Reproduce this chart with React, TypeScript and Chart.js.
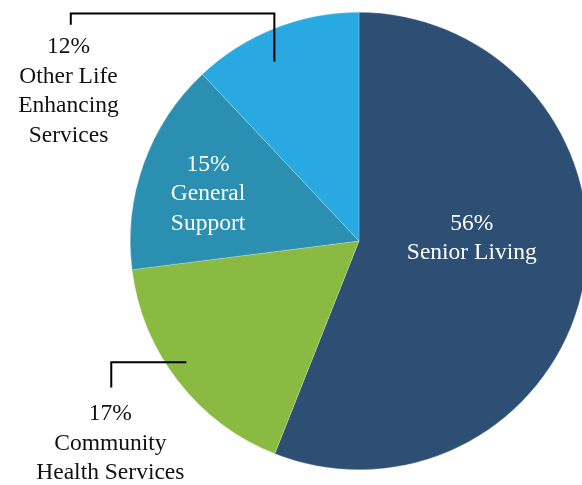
import React, { useEffect, useRef } from "react";
import { Chart, registerables } from "chart.js";

Chart.register(...registerables);

const categories = ["Senior Living", "Community Health Services", "General Support", "Other Life Enhancing Services"];
const values = [56, 17, 15, 12];
const colors = ["#2c4f73", "#8aba41", "#2a8fb1", "#29a9e1"];
const labelLines = [
  ["56%", "Senior Living"],
  ["17%", "Community", "Health Services"],
  ["15%", "General", "Support"],
  ["12%", "Other Life", "Enhancing", "Services"],
];
const labelColors = ["#ffffff", "#111111", "#ffffff", "#111111"];

const FONT = '23.5px "Liberation Serif", "Times New Roman", serif';

const labelPlugin = {
  id: "sliceLabels",
  afterDraw(chart: any) {
    const ctx = chart.ctx;
    const meta = chart.getDatasetMeta(0);
    const arc0 = meta.data[0];
    const cx = arc0.x;
    const cy = arc0.y;
    const r = arc0.outerRadius;
    ctx.save();
    ctx.font = FONT;
    ctx.textAlign = "center";
    ctx.textBaseline = "middle";
    const lineH = 29.5;
    // anchor positions relative to centre (fractions of radius)
    const anchors = [
      { x: cx + 0.493 * r, y: cy - 0.012 * r },
      { x: cx - 1.087 * r, y: cy + 0.885 * r },
      { x: cx - 0.66 * r, y: cy - 0.206 * r },
      { x: cx - 1.27 * r, y: cy - 0.654 * r },
    ];
    anchors.forEach((a, i) => {
      const lines = labelLines[i];
      ctx.fillStyle = labelColors[i];
      const start = a.y - ((lines.length - 1) * lineH) / 2;
      lines.forEach((t, j) => ctx.fillText(t, a.x, start + j * lineH));
    });
    // connectors
    ctx.strokeStyle = "#000000";
    ctx.lineWidth = 2;
    ctx.lineCap = "butt";
    ctx.beginPath();
    ctx.moveTo(cx - 1.26 * r, cy - 0.945 * r);
    ctx.lineTo(cx - 1.26 * r, cy - 0.995 * r);
    ctx.lineTo(cx - 0.37 * r, cy - 0.995 * r);
    ctx.lineTo(cx - 0.37 * r, cy - 0.785 * r);
    ctx.stroke();
    ctx.beginPath();
    ctx.moveTo(cx - 1.083 * r, cy + 0.64 * r);
    ctx.lineTo(cx - 1.083 * r, cy + 0.53 * r);
    ctx.lineTo(cx - 0.755 * r, cy + 0.53 * r);
    ctx.stroke();
    ctx.restore();
  },
};

export default function App() {
  const ref = useRef<HTMLCanvasElement>(null);
  useEffect(() => {
    document.body.style.margin = "0";
    const chart = new Chart(ref.current!, {
      type: "pie",
      data: {
        labels: categories,
        datasets: [
          {
            data: values,
            backgroundColor: colors,
            borderColor: "rgba(255,255,255,0.45)",
            borderWidth: 0.5,
          },
        ],
      },
      options: {
        animation: false,
        responsive: false,
        layout: { padding: { left: 130, right: 12, top: 12, bottom: 15 } },
        plugins: { legend: { display: false }, tooltip: { enabled: false } },
      },
      plugins: [labelPlugin],
    });
    return () => chart.destroy();
  }, []);
  return (
    <div style={{ width: 582, height: 485, overflow: "hidden", background: "#ffffff" }}>
      <canvas ref={ref} width={600} height={485} style={{ width: 600, height: 485, display: "block" }} />
    </div>
  );
}
